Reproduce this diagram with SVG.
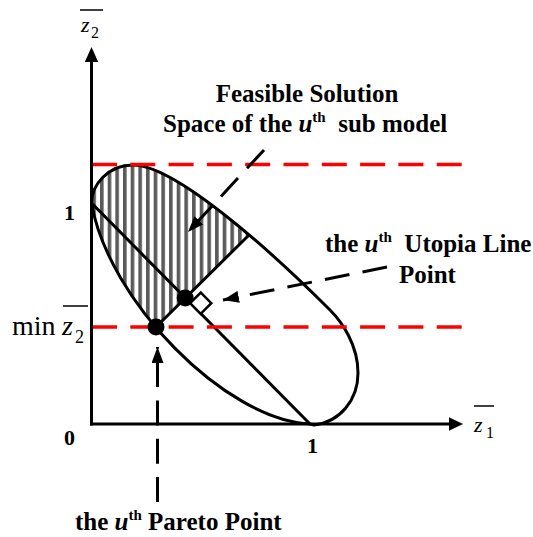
<svg xmlns="http://www.w3.org/2000/svg" width="533" height="537" viewBox="0 0 533 537">
<style>
.lbl{font-family:"Liberation Serif","Times New Roman",serif;font-weight:bold;font-size:25px;fill:#000}
.sup{font-size:15px}
.num{font-family:"Liberation Serif","Times New Roman",serif;font-weight:bold;font-size:22px;fill:#000}
.var{font-family:"Liberation Serif","Times New Roman",serif;font-size:22px;fill:#000}
.sub{font-family:"Liberation Serif","Times New Roman",serif;font-size:16px;fill:#000}
.big{font-family:"Liberation Serif","Times New Roman",serif;font-size:28px;fill:#000}
.it{font-style:italic}
.blk{fill:none;stroke:#000;stroke-width:3;stroke-linejoin:round}
.red{fill:none;stroke:#ff0000;stroke-width:3.5;stroke-dasharray:25 13.3}
.dash{fill:none;stroke:#000;stroke-width:3;stroke-dasharray:25 13.3}
.bar{stroke:#000;stroke-width:1.5}
</style>
<defs>
<pattern id="hatch" patternUnits="userSpaceOnUse" x="100" y="0" width="7.67" height="10">
<rect x="0" y="0" width="3.6" height="10" fill="#5a5a5a"/>
</pattern>
<clipPath id="upper">
<polygon points="43.1,438.9 327.3,157.3 327.3,0 0,0 0,438.9"/>
</clipPath>
<marker id="arr" viewBox="0 0 16 12" refX="16" refY="6" markerWidth="16" markerHeight="12" markerUnits="userSpaceOnUse" orient="auto">
<path d="M0,0 L16,6 L0,12 Z" fill="#000"/>
</marker>
</defs>

<g id="feasible-region">
<path d="M91.5,203 C91.5,185 108,165 133,165 C175,165 270,250 330,310 C342,322 358,345 358,373 C358,400 340,422 314,425 L310,424 C225,420 108,300 91.5,203 Z" fill="url(#hatch)" stroke="none" clip-path="url(#upper)"/>
<path d="M91.5,203 C91.5,185 108,165 133,165 C175,165 270,250 330,310 C342,322 358,345 358,373 C358,400 340,422 314,425 L310,424 C225,420 108,300 91.5,203 Z" class="blk"/>
</g>

<g id="utopia-line">
<line x1="91.5" y1="203" x2="310" y2="424" class="blk"/>
<line x1="156" y1="327" x2="249" y2="235" class="blk"/>
<polygon points="190.1,303.1 200.8,292.5 211.3,303.2 200.7,313.8" fill="#fff" stroke="#000" stroke-width="2.5"/>
</g>

<g id="limits">
<line x1="92" y1="164.5" x2="462" y2="164.5" class="red"/>
<line x1="92" y1="327" x2="462" y2="327" class="red"/>
</g>

<g id="axes">
<line x1="91.5" y1="425.5" x2="91.5" y2="60" class="blk"/>
<polygon points="91.5,47 84.8,62 98.2,62" fill="#000"/>
<line x1="90" y1="424" x2="450" y2="424" class="blk"/>
<polygon points="463,424 449,417.3 449,430.7" fill="#000"/>
</g>

<g id="axis-labels">
<line x1="80" y1="10" x2="103" y2="10" class="bar"/>
<text x="81" y="32" class="var it">z</text>
<text x="91" y="38" class="sub">2</text>
<line x1="474" y1="406" x2="494" y2="406" class="bar"/>
<text x="474" y="432" class="var it">z</text>
<text x="486" y="438" class="sub">1</text>
<text x="12" y="335" class="big">min</text>
<line x1="63" y1="306" x2="88" y2="306" class="bar"/>
<text x="62" y="335" class="big it">z</text>
<text x="75" y="343" class="sub" style="font-size:18px">2</text>
<text x="64" y="445" class="num">0</text>
<text x="307" y="453" class="num">1</text>
<text x="64" y="220" class="num">1</text>
</g>

<g id="points">
<circle id="pareto-point" cx="156" cy="327" r="8.5" fill="#000"/>
<circle id="utopia-point" cx="185.2" cy="298.1" r="8.5" fill="#000"/>
</g>

<g id="connectors">
<line x1="264" y1="150" x2="188" y2="232" class="dash" marker-end="url(#arr)"/>
<line x1="387" y1="267" x2="223" y2="300" class="dash" marker-end="url(#arr)"/>
<line x1="157.5" y1="502" x2="157.5" y2="347" class="dash" marker-end="url(#arr)"/>
</g>

<g id="labels">
<text x="307" y="102" class="lbl" text-anchor="middle">Feasible Solution</text>
<text x="163" y="132" class="lbl">Space of the <tspan class="it">u</tspan><tspan class="sup" dy="-10">th</tspan><tspan dy="10">&#160; sub model</tspan></text>
<text x="325" y="252" class="lbl">the <tspan class="it">u</tspan><tspan class="sup" dy="-10">th</tspan><tspan dy="10">&#160; Utopia Line</tspan></text>
<text x="399" y="283" class="lbl">Point</text>
<text x="75" y="530" class="lbl">the <tspan class="it">u</tspan><tspan class="sup" dy="-10">th</tspan><tspan dy="10"> Pareto Point</tspan></text>
</g>
</svg>
